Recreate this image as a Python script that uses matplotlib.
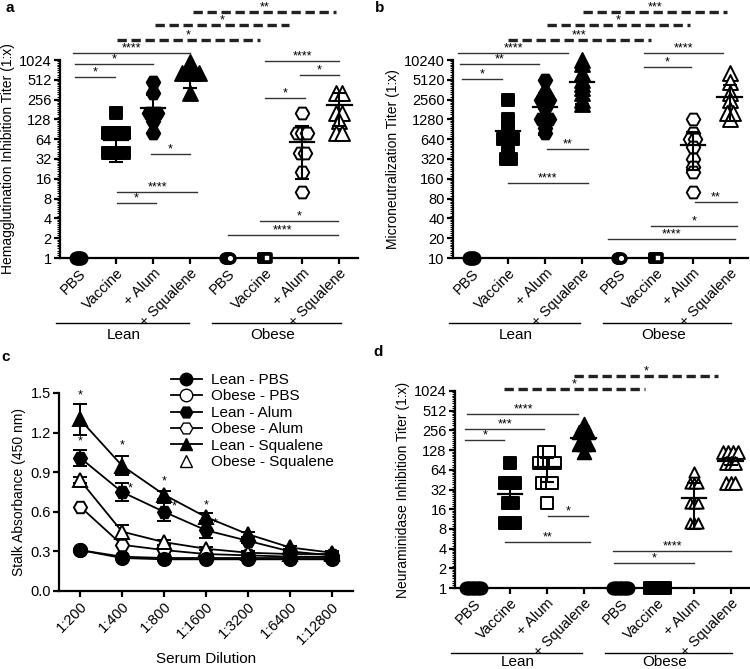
import matplotlib

matplotlib.use("Agg")
import matplotlib.pyplot as plt  # noqa: E402
import numpy as np  # noqa: E402
from matplotlib.lines import Line2D  # noqa: E402
from matplotlib.ticker import FixedLocator, NullFormatter  # noqa: E402

plt.rcParams["font.family"] = ["Liberation Sans", "DejaVu Sans"]

GROUPS = ["PBS", "Vaccine", "+ Alum", "+ Squalene", "PBS", "Vaccine", "+ Alum", "+ Squalene"]

# -- Panel a: HAI titers -----------------------------------------------------
a_vals = [
    [1] * 6,
    [160, 80, 80, 80, 80, 40, 40, 40, 40],
    [480, 320, 160, 160, 120, 80],
    [960, 640, 640, 640, 640, 320],
    [1] * 6,
    [1] * 6,
    [160, 80, 80, 80, 40, 40, 20, 10],
    [320, 320, 160, 160, 120, 80, 80],
]
a_mean = [None, 62, 190, 565, None, None, 58, 210]
a_err = [None, 33, 110, 175, None, None, 42, 110]
a_ticks = [2 ** k for k in range(11)]
# (x0, x1, y, label, dashed)
a_sig = [
    (3.07, 6.91, 5560, "**", True),
    (2.05, 5.65, 3490, "*", True),
    (1.03, 4.87, 2060, "*", True),
    (-0.15, 3.0, 1320, "****", False),
    (-0.1, 2.0, 880, "*", False),
    (-0.1, 0.97, 570, "*", False),
    (1.93, 3.0, 38, "*", False),
    (1.03, 3.18, 10, "****", False),
    (1.03, 2.08, 6.9, "*", False),
    (5.0, 7.0, 990, "****", False),
    (5.94, 7.0, 612, "*", False),
    (5.0, 6.08, 274, "*", False),
    (4.87, 6.97, 3.65, "*", False),
    (4.0, 6.97, 2.24, "****", False),
]

# -- Panel b: microneutralization titers -------------------------------------
b_vals = [
    [10] * 6,
    [2560, 1280, 960, 640, 640, 640, 480, 320, 320],
    [5120, 3200, 2560, 2560, 1920, 1280, 1280, 960, 800],
    [10240, 9000, 6400, 5120, 4480, 3840, 3200, 2560, 2200],
    [10] * 6,
    [10] * 6,
    [1280, 800, 640, 640, 480, 320, 240, 200, 100],
    [6400, 4800, 3200, 2560, 1800, 1600, 1600, 1280],
]
b_mean = [None, 850, 2000, 4700, None, None, 520, 2770]
b_err = [None, 570, 1250, 2500, None, None, 300, 1550]
b_ticks = [10 * 2 ** k for k in range(11)]
b_sig = [
    (3.02, 6.92, 55600, "***", True),
    (2.05, 5.92, 34900, "*", True),
    (0.99, 4.87, 20600, "***", True),
    (-0.36, 2.62, 12960, "****", False),
    (-0.31, 1.83, 8800, "**", False),
    (-0.25, 0.83, 5220, "*", False),
    (2.05, 3.16, 450, "**", False),
    (0.99, 3.16, 140, "****", False),
    (4.68, 6.82, 12960, "****", False),
    (4.68, 5.95, 8100, "*", False),
    (6.06, 7.19, 72, "**", False),
    (4.87, 7.19, 30.7, "*", False),
    (3.7, 7.14, 19.2, "****", False),
]

# -- Panel c: stalk ELISA ----------------------------------------------------
dilutions = ["1:200", "1:400", "1:800", "1:1600", "1:3200", "1:6400", "1:12800"]
lean_pbs = [0.31, 0.25, 0.24, 0.24, 0.24, 0.24, 0.24]
obese_pbs = [0.31, 0.26, 0.25, 0.25, 0.25, 0.25, 0.25]
lean_alum = [1.01, 0.75, 0.60, 0.46, 0.38, 0.30, 0.27]
lean_alum_err = [0.06, 0.07, 0.07, 0.055, 0.02, 0.01, 0.01]
obese_alum = [0.64, 0.35, 0.31, 0.28, 0.27, 0.26, 0.26]
lean_sq = [1.30, 0.95, 0.73, 0.56, 0.43, 0.33, 0.29]
lean_sq_err = [0.12, 0.07, 0.03, 0.03, 0.02, 0.01, 0.01]
obese_sq = [0.84, 0.45, 0.37, 0.32, 0.29, 0.28, 0.28]
obese_sq_err = [0.02, 0.05, 0.02, 0.01, 0.01, 0.01, 0.01]
# star (x, y) positions
c_stars = [(0, 1.485), (0, 1.13), (1, 1.10), (1.19, 0.78), (2, 0.83),
           (2.24, 0.64), (3, 0.65), (3.21, 0.51)]

# -- Panel d: NAI titers -----------------------------------------------------
d_vals = [
    [1] * 10,
    [80, 40, 40, 40, 20, 20, 10, 10, 10],
    [120, 120, 80, 80, 80, 80, 40, 40, 40, 20],
    [320, 240, 240, 240, 160, 160, 160, 120],
    [1] * 10,
    [1] * 10,
    [60, 40, 40, 40, 20, 20, 20, 10, 10, 10],
    [120, 120, 120, 120, 80, 80, 80, 40, 40, 40],
]
d_mean = [None, 27, 70, 194, None, None, 24, 86]
d_err = [None, 8, 28, 25, None, None, 16, 10]
d_sig = [
    (2.75, 6.67, 1756, "*", True),
    (0.82, 4.68, 1088, "*", True),
    (-0.16, 2.86, 452, "****", False),
    (-0.22, 1.93, 269, "***", False),
    (-0.22, 0.84, 182, "*", False),
    (2.04, 3.13, 12.6, "*", False),
    (0.87, 3.18, 5.05, "**", False),
    (3.81, 7.02, 3.68, "****", False),
    (3.84, 5.99, 2.44, "*", False),
]

FS = 10.5
FS_TXT = 11


def spread(vals, step):
    vals = np.asarray(vals, float)
    xs = np.zeros(len(vals))
    for v in np.unique(vals):
        idx = np.where(vals == v)[0]
        xs[idx] = (np.arange(len(idx)) - (len(idx) - 1) / 2) * step
    return xs


def sig_bar(ax, x0, x1, y, label, dashed):
    if dashed:
        ax.plot([x0, x1], [y, y], color="#222222", lw=2.4, ls=(0, (2.8, 1.4)),
                solid_capstyle="butt", clip_on=False)
    else:
        ax.plot([x0, x1], [y, y], color="#333333", lw=1.0, clip_on=False)
    ax.annotate(label, ((x0 + x1) / 2, y), xytext=(0, -1), textcoords="offset points",
                ha="center", va="bottom", fontsize=9, annotation_clip=False)


def style_axis(ax):
    for s in ("top", "right"):
        ax.spines[s].set_visible(False)
    for s in ("left", "bottom"):
        ax.spines[s].set_linewidth(1.6)
    ax.tick_params(width=1.6, length=4, labelsize=FS, pad=2)


def titer_panel(ax, vals, means, errs, markers, faces, sizes, ticks, ylabel, sig, steps,
                grp_y=(-0.328, -0.39)):
    ax.set_yscale("log", base=2)
    for i, v in enumerate(vals):
        xs = i + spread(v, steps[i])
        hollow_base = faces[i] == "white" and means[i] is None
        ax.scatter(xs, v, marker=markers[i], s=40 if hollow_base else sizes[i],
                   facecolors=faces[i], edgecolors="black",
                   linewidths=2.6 if hollow_base else 1.4, clip_on=False, zorder=3)
        if means[i] is not None:
            ax.errorbar(i, means[i], yerr=errs[i], fmt="none", ecolor="black",
                        elinewidth=1.5, capsize=5, capthick=1.5, zorder=4)
            ax.plot([i - 0.33, i + 0.33], [means[i], means[i]], color="black",
                    lw=1.6, zorder=4)
    ax.set_xlim(-0.5, 7.5)
    ax.set_ylim(ticks[0], ticks[-1])
    ax.yaxis.set_major_locator(FixedLocator(ticks))
    ax.set_yticklabels([str(t) for t in ticks])
    minors = [t * (1 + j / 10) for t in ticks[:-1] for j in range(1, 10)]
    ax.yaxis.set_minor_locator(FixedLocator(minors))
    ax.yaxis.set_minor_formatter(NullFormatter())
    ax.set_xticks(range(8))
    ax.set_xticklabels(GROUPS, rotation=45, ha="right", rotation_mode="anchor")
    ax.set_ylabel(ylabel, fontsize=10, labelpad=3)
    style_axis(ax)
    ax.tick_params(axis="y", which="minor", length=2.5, width=0.8)
    for x0, x1, y, lab, dashed in sig:
        sig_bar(ax, x0, x1, y, lab, dashed)
    tr = ax.get_xaxis_transform()
    for (g0, g1), gx, name in [((-0.6, 2.95), 1.2, "Lean"), ((3.58, 7.05), 5.2, "Obese")]:
        ax.plot([g0, g1], [grp_y[0], grp_y[0]], color="black", lw=1.0, transform=tr,
                clip_on=False)
        ax.text(gx, grp_y[1], name, transform=tr, ha="center", va="center", fontsize=FS_TXT)


fig = plt.figure(figsize=(7.5, 6.69), dpi=100)
W, H = 750, 669
ax_a = fig.add_axes([60 / W, 1 - 258 / H, 298 / W, 198 / H])
ax_b = fig.add_axes([453 / W, 1 - 258 / H, 295 / W, 198 / H])
ax_c = fig.add_axes([59 / W, 1 - 591 / H, 294 / W, 198 / H])
ax_d = fig.add_axes([455 / W, 1 - 588 / H, 294 / W, 197 / H])

mk_ab = ["o", "s", "H", "^", "o", "s", "H", "^"]
face_ab = ["black", "black", "black", "black", "white", "white", "white", "white"]
size_ab = [75, 85, 95, 115, 75, 75, 95, 115]
step_ab = [0.03, 0.14, 0.22, 0.15, 0.025, 0.025, 0.14, 0.16]

titer_panel(ax_a, a_vals, a_mean, a_err, mk_ab, face_ab, size_ab, a_ticks,
            "Hemagglutination Inhibition Titer (1:x)", a_sig, step_ab)
titer_panel(ax_b, b_vals, b_mean, b_err, mk_ab, face_ab, size_ab, b_ticks,
            "Microneutralization Titer (1:x)", b_sig, step_ab)

mk_d = ["o", "s", "s", "^", "o", "s", "^", "^"]
face_d = ["black", "black", "white", "black", "black", "black", "white", "white"]
size_d = [75, 85, 65, 95, 75, 85, 55, 85]
step_d = [0.045, 0.14, 0.14, 0.13, 0.045, 0.045, 0.1, 0.13]
titer_panel(ax_d, d_vals, d_mean, d_err, mk_d, face_d, size_d, a_ticks,
            "Neuraminidase Inhibition Titer (1:x)", d_sig, step_d,
            grp_y=(-0.328, -0.375))

# panel c
xc = np.arange(len(dilutions))
series = [
    (obese_pbs, None, "o", "white", "Obese - PBS"),
    (obese_alum, None, "H", "white", "Obese - Alum"),
    (obese_sq, obese_sq_err, "^", "white", "Obese - Squalene"),
    (lean_alum, lean_alum_err, "H", "black", "Lean - Alum"),
    (lean_sq, lean_sq_err, "^", "black", "Lean - Squalene"),
    (lean_pbs, None, "o", "black", "Lean - PBS"),
]
for yv, ye, mk, fc, name in series:
    ax_c.errorbar(xc, yv, yerr=ye, color="black", lw=1.3, marker=mk, ms=9.5,
                  mfc=fc, mec="black", mew=1.4, capsize=5, capthick=1.4,
                  elinewidth=1.4, clip_on=False, zorder=3)
for sx, sy in c_stars:
    ax_c.text(sx, sy, "*", ha="center", va="center", fontsize=9)
ax_c.set_xlim(-0.5, 6.5)
ax_c.set_ylim(0, 1.5)
ax_c.set_yticks([0.0, 0.3, 0.6, 0.9, 1.2, 1.5])
ax_c.set_yticklabels(["0.0", "0.3", "0.6", "0.9", "1.2", "1.5"])
ax_c.set_xticks(xc)
ax_c.set_xticklabels(dilutions, rotation=45, ha="right", rotation_mode="anchor")
ax_c.set_ylabel("Stalk Absorbance (450 nm)", fontsize=10, labelpad=3)
ax_c.set_xlabel("Serum Dilution", fontsize=FS_TXT, labelpad=4)
style_axis(ax_c)

handles = [
    Line2D([], [], color="black", lw=1.3, marker="o", ms=9, mfc="black", mec="black"),
    Line2D([], [], color="black", lw=1.3, marker="o", ms=9, mfc="white", mec="black"),
    Line2D([], [], color="black", lw=1.3, marker="H", ms=9, mfc="black", mec="black"),
    Line2D([], [], color="black", lw=1.3, marker="H", ms=9, mfc="white", mec="black"),
    Line2D([], [], color="black", lw=1.3, marker="^", ms=9, mfc="black", mec="black"),
    Line2D([], [], color="black", lw=0, marker="^", ms=9, mfc="white", mec="black"),
]
labels = ["Lean - PBS", "Obese - PBS", "Lean - Alum", "Obese - Alum",
          "Lean - Squalene", "Obese - Squalene"]
fig.legend(handles, labels, loc="upper left", bbox_to_anchor=(171 / W, 1 - 373 / H),
           frameon=False, fontsize=FS_TXT, handlelength=2.0, handletextpad=0.6,
           labelspacing=0.16, borderpad=0, borderaxespad=0)

for lab, px, py in [("a", 10, 8), ("b", 380, 8), ("c", 6, 357), ("d", 378, 352)]:
    fig.text(px / W, 1 - py / H, lab, fontsize=11, fontweight="bold", ha="center", va="center")

fig.savefig("out.png", dpi=100)
